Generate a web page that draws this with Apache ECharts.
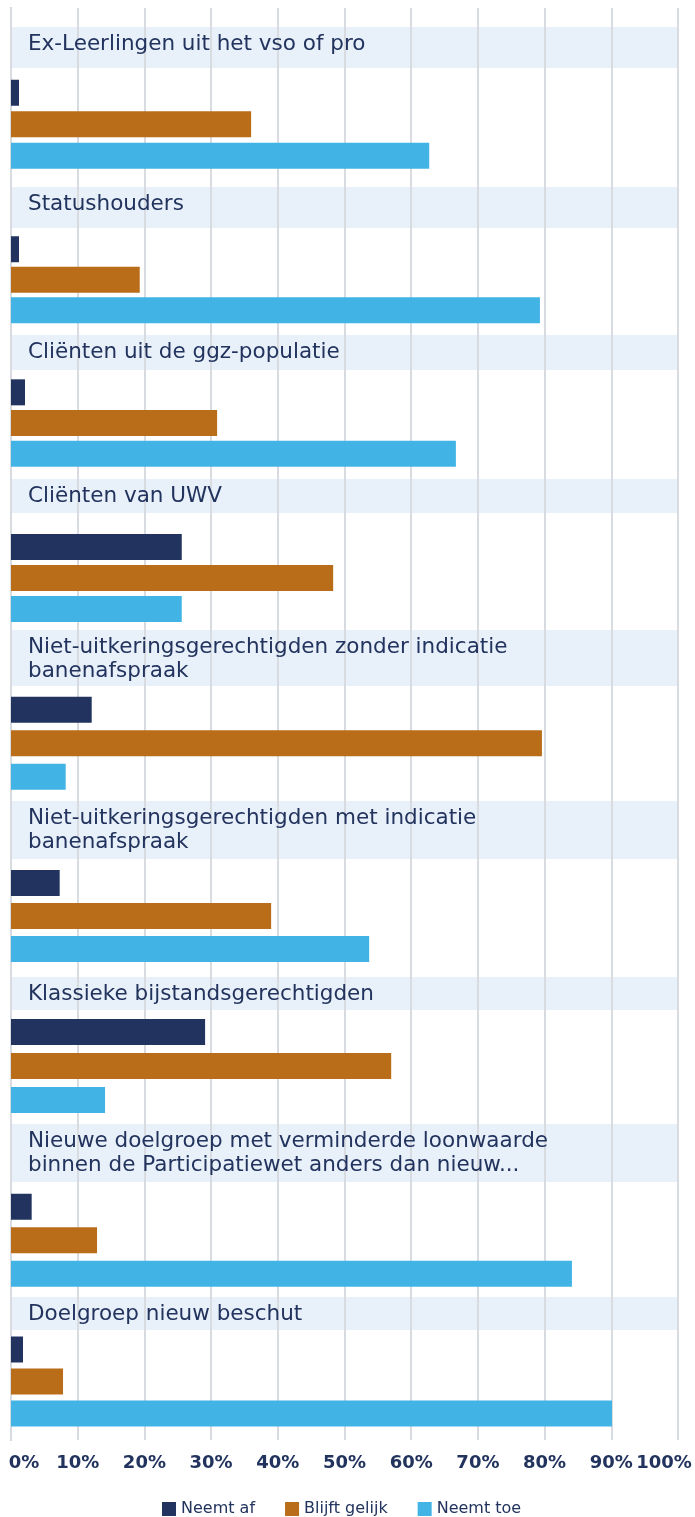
<!DOCTYPE html>
<html>
<head>
<meta charset="utf-8">
<script src="https://cdn.jsdelivr.net/npm/echarts@6/dist/echarts.min.js"></script>
<style>
  html, body { margin: 0; padding: 0; background: #fff; }
  #main { width: 695px; height: 1517px; }
</style>
</head>
<body>
<div id="main"></div>
<script>
// groepen (van boven naar beneden)
var categories = [
  'Ex-Leerlingen uit het vso of pro',
  'Statushouders',
  'Cliënten uit de ggz-populatie',
  'Cliënten van UWV',
  'Niet-uitkeringsgerechtigden zonder indicatie\nbanenafspraak',
  'Niet-uitkeringsgerechtigden met indicatie\nbanenafspraak',
  'Klassieke bijstandsgerechtigden',
  'Nieuwe doelgroep met verminderde loonwaarde\nbinnen de Participatiewet anders dan nieuw...',
  'Doelgroep nieuw beschut'
];
var seriesNames = ['Neemt af', 'Blijft gelijk', 'Neemt toe'];
var neemtAf      = [1.2, 1.2, 2.1, 25.6, 12.1, 7.3, 29.1, 3.1, 1.8];
var blijftGelijk = [36.0, 19.3, 30.9, 48.3, 79.6, 39.0, 57.0, 12.9, 7.8];
var neemtToe     = [62.7, 79.3, 66.7, 25.6, 8.2, 53.7, 14.1, 84.1, 90.1];

var colors = ['#21335e', '#b96d18', '#41b4e5'];
var textColor = '#22335e';
var fontFamily = '"DejaVu Sans", sans-serif';

// opmaak per groep: label-balk en ruimte voor de staven
var layout = [
  { bandTop: 27,   bandH: 41, barsTop: 77,     barsH: 94.5 },
  { bandTop: 187,  bandH: 41, barsTop: 234,    barsH: 91.5 },
  { bandTop: 335,  bandH: 35, barsTop: 377,    barsH: 92 },
  { bandTop: 479,  bandH: 34, barsTop: 531.5,  barsH: 93 },
  { bandTop: 630,  bandH: 56, barsTop: 693,    barsH: 100.5 },
  { bandTop: 801,  bandH: 58, barsTop: 866.5,  barsH: 99 },
  { bandTop: 977,  bandH: 33, barsTop: 1015,   barsH: 102 },
  { bandTop: 1124, bandH: 58, barsTop: 1190,   barsH: 100.5 },
  { bandTop: 1297, bandH: 33, barsTop: 1333.5, barsH: 96 }
];
var plotLeft = 11, plotRight = 17;

var myChart = echarts.init(document.getElementById('main'));

var labelFont = { fontSize: 18, fontWeight: 'bold', color: textColor, fontFamily: fontFamily };

var grids = [{ left: plotLeft, right: plotRight, top: 8, height: 1432 }];
var xAxes = [{
  gridIndex: 0, type: 'value', min: 0, max: 100, interval: 10, z: 5,
  axisLine: { show: false },
  axisTick: { show: false },
  splitLine: { lineStyle: { color: '#d8dbe0', width: 2 } },
  axisLabel: Object.assign({
    margin: 14,
    formatter: function (v) {
      if (v === 0) return '{a|0%}';
      if (v === 100) return '{b|100%}';
      return v + '%';
    },
    rich: {
      a: Object.assign({ padding: [0, 0, 0, 26] }, labelFont),
      b: Object.assign({ padding: [0, 28, 0, 0] }, labelFont)
    }
  }, labelFont)
}];
var yAxes = [{
  gridIndex: 0, type: 'category', data: [''],
  axisLine: { show: true, lineStyle: { color: '#c3c7cd', width: 2 } },
  axisTick: { show: false },
  axisLabel: { show: false }
}];
var series = [];
var graphics = [];
var valueSets = [neemtAf, blijftGelijk, neemtToe];

categories.forEach(function (cat, i) {
  var l = layout[i];
  var g = i + 1;
  grids.push({ left: plotLeft, right: plotRight, top: l.barsTop, height: l.barsH });
  xAxes.push({ gridIndex: g, type: 'value', min: 0, max: 100, show: false });
  yAxes.push({ gridIndex: g, type: 'category', inverse: true, data: seriesNames, show: false });
  seriesNames.forEach(function (name, s) {
    series.push({
      name: name,
      type: 'bar',
      xAxisIndex: g,
      yAxisIndex: g,
      barWidth: 26,
      barGap: '-100%',
      z: 10,
      itemStyle: { color: colors[s] },
      data: [[valueSets[s][i], name]]
    });
  });
  graphics.push({
    type: 'rect', z: 1,
    shape: { x: plotLeft, y: l.bandTop, width: 695 - plotLeft - plotRight, height: l.bandH },
    style: { fill: 'rgba(205,222,242,0.45)' }
  });
  graphics.push({
    type: 'text', z: 50, x: 28, y: l.bandTop + 5,
    style: { text: cat, fontSize: 21.5, fontFamily: fontFamily, fill: textColor, lineHeight: 24 }
  });
});

var option = {
  animation: false,
  color: colors,
  legend: {
    data: seriesNames,
    top: 1496,
    left: 157,
    icon: 'rect',
    itemWidth: 14,
    itemHeight: 14,
    itemGap: 30,
    textStyle: { fontSize: 16, color: textColor, fontFamily: fontFamily }
  },
  grid: grids,
  xAxis: xAxes,
  yAxis: yAxes,
  graphic: graphics,
  series: series
};
option && myChart.setOption(option);
</script>
</body>
</html>
